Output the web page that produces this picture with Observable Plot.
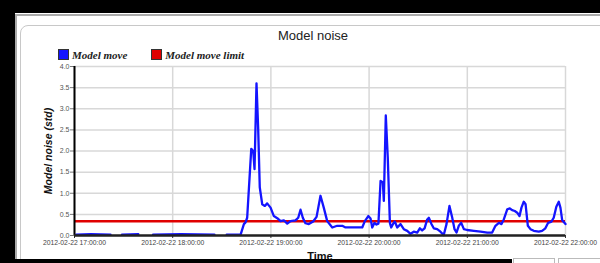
<!DOCTYPE html>
<html>
<head>
<meta charset="utf-8">
<script src="https://cdn.jsdelivr.net/npm/d3@7"></script>
<script src="https://cdn.jsdelivr.net/npm/@observablehq/plot@0.6"></script>
<style>
  html, body { margin: 0; padding: 0; background: #fff; }
  #wrap { position: relative; width: 600px; height: 263px; overflow: hidden; background: #fff; font-family: "Liberation Sans", Arial, sans-serif; }
  .abs { position: absolute; }
  #chart { position: absolute; left: 0; top: 0; }
  #chart svg { background: transparent !important; }
</style>
</head>
<body>
<div id="wrap">
  <div class="abs" style="left:20px;top:25px;width:640px;height:260px;border:1px solid #c8c8c8;border-radius:8px;"></div>
  <div id="chart"></div>
  <div class="abs" style="left:0;top:0;width:600px;height:13px;background:#000;"></div>
  <div class="abs" style="left:0;top:14px;width:600px;height:2px;background:#aaa;"></div>
  <div class="abs" style="left:0;top:0;width:15px;height:263px;background:#000;"></div>
  <div class="abs" style="left:15px;top:14px;width:2px;height:249px;background:#aaa;"></div>
  <div class="abs" style="left:0;top:259px;width:512px;height:4px;background:#000;"></div>
  <div class="abs" style="left:513px;top:258px;width:40px;height:6px;border:1px solid #bbb;"></div>
  <div class="abs" style="left:558px;top:258px;width:50px;height:6px;border:1px solid #bbb;"></div>
  <div class="abs" id="title" style="left:0;top:28px;width:626px;text-align:center;font-size:13px;color:#222;"></div>
  <div class="abs" id="legend" style="left:58px;top:49px;font-family:'Liberation Serif','Times New Roman',serif;font-style:italic;font-weight:bold;font-size:11px;color:#222;white-space:nowrap;"></div>
</div>
<script>
// ---- data ----
const titleText = "Model noise";
const seriesNames = ["Model move", "Model move limit"];
const seriesColors = ["#1414ff", "#e00000"];
const yLabel = "Model noise (std)";
const xLabel = "Time";
const startTime = [2012, 1, 22, 17, 0];
const endTime = [2012, 1, 22, 22, 0];
const hourTicks = [17, 18, 19, 20, 21, 22];
const yTicks = [0, 0.5, 1, 1.5, 2, 2.5, 3, 3.5, 4];
// minutes after 17:00
const minutes = [1, 10, 22, 25, 29, 39, 43.5, 48, 65, 85.5, 89, 93, 99.5, 101.5, 103.5, 104.5, 105.5, 108, 109.2, 110, 111.2, 112.2, 113.2, 114.7, 116.3, 117.7, 119.8, 121.8, 123.9, 125.9, 127.9, 130, 132, 135, 136.7, 138.1, 139.5, 141.1, 143.2, 145.8, 147.9, 150.3, 152.3, 154.4, 157.5, 160.5, 163.6, 165.6, 170.7, 175.8, 177.4, 179.5, 180.9, 181.9, 183.3, 184.5, 185.7, 187, 188.4, 189, 190.2, 191.4, 192.7, 193.5, 194.7, 195.7, 197.2, 199.2, 201.2, 203.3, 205.3, 207.3, 209.4, 211, 212.4, 213.9, 215.5, 216.5, 218, 219.5, 221.6, 223.6, 225.6, 227.3, 229.1, 230.8, 232.2, 233.4, 234.8, 236.3, 237.9, 239.9, 244, 248.1, 252.2, 255.2, 257.2, 259.3, 260.9, 262.3, 264.4, 266, 267.4, 269, 270.5, 271.9, 273.1, 274.5, 275.6, 277, 278.6, 280.6, 283.7, 285.7, 287.7, 289.4, 291.4, 292.8, 294.4, 295.9, 296.9, 298, 300];
const moveValues = [0.02, 0.03, 0.02, null, 0.02, 0.03, null, 0.02, 0.03, 0.02, null, 0.02, 0.02, 0.02, 0.27, 0.31, 0.42, 2.05, 2.0, 1.57, 3.6, 2.56, 1.14, 0.74, 0.70, 0.76, 0.66, 0.46, 0.41, 0.34, 0.36, 0.28, 0.34, 0.36, 0.42, 0.61, 0.42, 0.29, 0.27, 0.33, 0.44, 0.94, 0.66, 0.34, 0.19, 0.23, 0.23, 0.19, 0.19, 0.19, 0.34, 0.46, 0.40, 0.19, 0.30, 0.26, 0.28, 1.29, 1.26, 0.82, 2.84, 1.85, 0.30, 0.19, 0.28, 0.33, 0.19, 0.27, 0.15, 0.11, 0.04, 0.09, 0.07, 0.17, 0.12, 0.17, 0.38, 0.42, 0.28, 0.17, 0.15, 0.09, 0.01, 0.27, 0.70, 0.42, 0.15, 0.07, 0.23, 0.30, 0.15, 0.13, 0.11, 0.09, 0.07, 0.07, 0.23, 0.30, 0.27, 0.38, 0.62, 0.64, 0.60, 0.58, 0.54, 0.46, 0.66, 0.80, 0.74, 0.23, 0.15, 0.11, 0.09, 0.11, 0.17, 0.30, 0.33, 0.42, 0.68, 0.80, 0.66, 0.36, 0.27];
const limitValue = 0.34;

// ---- build ----
const t0 = new Date(...startTime);
const t1 = new Date(...endTime);
const data = minutes.map((m, i) => ({date: new Date(t0.getTime() + m * 60000), value: moveValues[i]}));
const xTickDates = hourTicks.map(h => new Date(startTime[0], startTime[1], startTime[2], h, 0));
const fmt = d3.timeFormat("%Y-%m-%d %H:%M:%S");

document.getElementById("title").textContent = titleText;
document.getElementById("legend").innerHTML = seriesNames.map((n, i) =>
  `<span style="display:inline-block;width:9px;height:9px;background:${seriesColors[i]};border:1px solid #333;vertical-align:-1px;margin-right:3px;"></span><span style="margin-right:${i === 0 ? 24 : 0}px">${n}</span>`
).join("");

const plot = Plot.plot({
  width: 600,
  height: 263,
  marginLeft: 74,
  marginRight: 35,
  marginTop: 66,
  marginBottom: 28,
  style: {background: "transparent", fontFamily: "'Liberation Sans', Arial, sans-serif", overflow: "visible"},
  x: {type: "time", domain: [t0, t1]},
  y: {domain: [0, 4]},
  marks: [
    Plot.gridY(yTicks, {stroke: "#d8d8d8", strokeOpacity: 1, strokeWidth: 1.5}),
    Plot.gridX(xTickDates, {stroke: "#d8d8d8", strokeOpacity: 1, strokeWidth: 1.5}),
    Plot.axisY(yTicks, {tickFormat: d3.format(".1f"), fontSize: 7, fill: "#555", tickSize: 4, tickPadding: 1, stroke: "#777", label: null}),
    Plot.axisX(xTickDates, {tickFormat: fmt, fontSize: 6.8, fill: "#444", tickSize: 3, tickPadding: 2, stroke: "#333", label: null}),
    Plot.text([yLabel], {frameAnchor: "left", textAnchor: "middle", dx: -26, dy: 0, rotate: -90, fontSize: 10.5, fontWeight: "bold", fontStyle: "italic", fill: "#111", text: d => d}),
    Plot.text([xLabel], {frameAnchor: "bottom", dy: 24, dx: 0, fontSize: 11, fontWeight: "bold", fill: "#111", text: d => d}),
    Plot.ruleY([limitValue], {stroke: seriesColors[1], strokeWidth: 2.5}),
    Plot.line(data, {x: "date", y: "value", stroke: seriesColors[0], strokeWidth: 2.3, strokeLinejoin: "round"}),
    Plot.ruleX([t0], {stroke: "#000", strokeWidth: 2}),
    Plot.ruleY([0], {stroke: "#222", strokeWidth: 2.5})
  ]
});
document.getElementById("chart").appendChild(plot);
</script>
</body>
</html>
